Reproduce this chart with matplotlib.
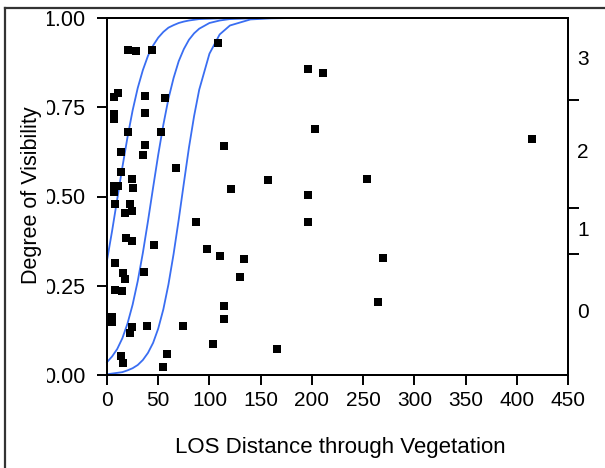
import matplotlib
matplotlib.use("Agg")
import matplotlib.pyplot as plt
from matplotlib.lines import Line2D
from matplotlib.transforms import Bbox, TransformedBbox

plt.rcParams['font.family'] = ['Liberation Sans', 'DejaVu Sans']

# ---- data ----
los_distance = [20.2, 28.3, 43.6, 7.1, 11.0, 37.1, 56.6, 6.8, 6.8, 37.1,
                20.2, 52.7, 37.1, 13.7, 34.8, 67.4, 13.7, 24.1, 6.8, 10.7,
                6.8, 25.7, 7.8, 22.5, 17.6, 24.7, 86.6, 18.5, 24.7, 45.6,
                7.8, 36.4, 15.9, 17.6, 7.8, 14.2, 4.6, 4.6, 24.1, 38.8,
                73.9, 22.5, 13.7, 15.6, 58.3, 54.7, 108.1, 195.9, 210.6, 203.0,
                113.9, 121.0, 156.9, 195.9, 253.8, 195.9, 97.3, 110.0, 133.7, 129.8,
                113.9, 113.9, 103.2, 165.7, 414.6, 269.7, 265.0]
visibility = [0.910, 0.908, 0.910, 0.780, 0.791, 0.782, 0.777, 0.731, 0.716, 0.733,
              0.682, 0.682, 0.644, 0.625, 0.616, 0.581, 0.569, 0.549, 0.529, 0.529,
              0.513, 0.525, 0.479, 0.479, 0.455, 0.460, 0.429, 0.384, 0.375, 0.364,
              0.315, 0.289, 0.285, 0.269, 0.238, 0.234, 0.163, 0.149, 0.135, 0.137,
              0.137, 0.118, 0.053, 0.034, 0.059, 0.023, 0.929, 0.857, 0.847, 0.690,
              0.642, 0.522, 0.546, 0.504, 0.549, 0.429, 0.353, 0.334, 0.325, 0.275,
              0.193, 0.158, 0.087, 0.073, 0.661, 0.329, 0.205]

# fitted curve and its bounds
curve_x = [0, 5, 10, 15, 20, 25, 30, 35, 40, 45, 50, 55, 60, 65, 70, 75, 80,
           85, 90, 100, 110, 120, 140, 160, 180, 450]
upper_curve = [0.321, 0.404, 0.493, 0.582, 0.666, 0.741, 0.804, 0.854, 0.894, 0.923,
               0.945, 0.961, 0.973, 0.980, 0.986, 0.990, 0.993, 0.995, 0.997, 0.998,
               0.999, 1.000, 1.000, 1.000, 1.000, 1.000]
fit_curve = [0.036, 0.052, 0.073, 0.103, 0.144, 0.197, 0.263, 0.342, 0.431, 0.525,
             0.617, 0.701, 0.774, 0.832, 0.879, 0.913, 0.939, 0.957, 0.970, 0.986,
             0.993, 0.997, 0.999, 1.000, 1.000, 1.000]
lower_curve = [0.002, 0.004, 0.006, 0.008, 0.013, 0.019, 0.028, 0.042, 0.062, 0.090,
               0.130, 0.184, 0.254, 0.339, 0.435, 0.537, 0.637, 0.725, 0.799, 0.900,
               0.954, 0.979, 0.996, 0.999, 1.000, 1.000]

x_ticks = [0, 50, 100, 150, 200, 250, 300, 350, 400, 450]
y_ticks = [0.0, 0.25, 0.5, 0.75, 1.0]
y_tick_labels = ['0.00', '0.25', '0.50', '0.75', '1.00']

# right-hand quantile scale
right_tick_pos = [0.770, 0.468, 0.339]
right_label_pos = [0.885, 0.622, 0.406, 0.174]
right_labels = ['3', '2', '1', '0']

W, H = 605, 468
fig = plt.figure(figsize=(W / 100, H / 100), dpi=100)
ax = fig.add_axes([107 / W, (H - 375) / H, 461 / W, 357 / H])

blue = '#3a6ef2'
for ys in (upper_curve, fit_curve, lower_curve):
    ax.plot(curve_x, ys, color=blue, lw=1.3, zorder=2, clip_on=False)
ax.plot(los_distance, visibility, 's', color='black', ms=5.9, mec='black', mew=0, zorder=3)

ax.set_xlim(0, 450)
ax.set_ylim(0, 1)
ax.set_xticks(x_ticks)
ax.set_yticks(y_ticks)
ax.set_yticklabels(y_tick_labels)
for s in ax.spines.values():
    s.set_linewidth(1.4)
    s.set_color('black')
ax.tick_params(axis='both', direction='out', length=7.5, width=1.4, colors='black')
ax.tick_params(axis='x', labelsize=15, pad=4)
ax.tick_params(axis='y', labelsize=15.5, pad=8)

ax2 = ax.twinx()
ax2.set_ylim(0, 1)
ax2.set_yticks(right_tick_pos)
ax2.set_yticklabels([])
ax2.tick_params(axis='y', direction='out', length=8, width=1.4)
for s in ax2.spines.values():
    s.set_linewidth(1.4)
for pos, lab in zip(right_label_pos, right_labels):
    ax2.text(1.0 + 15 / 461, pos, lab, transform=ax2.transAxes, ha='center', va='center', fontsize=15)

# clip the left labels as in the reference screenshot
clip = TransformedBbox(Bbox.from_extents(47 / W, 0, 1, 1), fig.transFigure)
for lbl in ax.get_yticklabels():
    lbl.set_clip_box(clip)
    lbl.set_clip_on(True)

fig.text(32 / W, 1 - 195 / H, 'Degree of Visibility', rotation=90, ha='center', va='center', fontsize=15.5)
fig.text(340 / W, 1 - 447 / H, 'LOS Distance through Vegetation', ha='center', va='center', fontsize=16)

# outer frame of the screenshot
fig.add_artist(Line2D([5 / W, 5 / W], [0, 1 - 8 / H], transform=fig.transFigure, color='#333333', lw=1.6))
fig.add_artist(Line2D([5 / W, 1], [1 - 8 / H, 1 - 8 / H], transform=fig.transFigure, color='#333333', lw=1.6))

fig.savefig('out.png', dpi=100)
